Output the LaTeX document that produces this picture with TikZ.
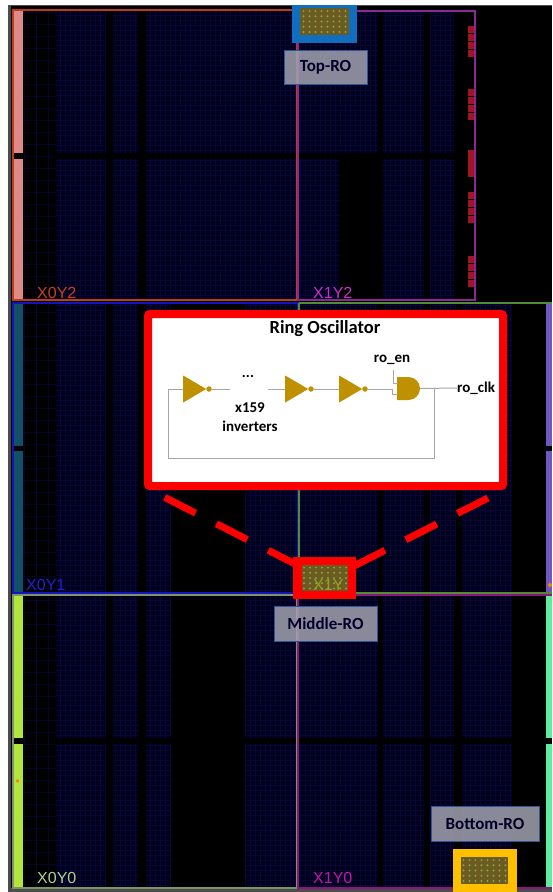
\documentclass[tikz,border=0pt]{standalone}
\usepackage{fontspec}
\setmainfont{Carlito}
\newfontfamily\regionfont{Liberation Sans}
\usetikzlibrary{shapes.geometric,shapes.misc}
\definecolor{fabric}{HTML}{00001C}
\definecolor{fabricline}{HTML}{070736}
\definecolor{sliceline}{HTML}{05052A}
\definecolor{gatecol}{HTML}{BF9000}
\definecolor{wirecol}{HTML}{A6A6A6}
\definecolor{rored}{HTML}{FF0000}
\definecolor{iored}{HTML}{A01525}
\definecolor{boxedge}{HTML}{2F5597}
\definecolor{boxfill}{HTML}{A2A2B0}
\definecolor{chipcol}{HTML}{6B5A22}
\definecolor{dotcol}{HTML}{84A83E}
\tikzset{
  regionlabel/.style={font=\regionfont\fontsize{16}{16}\selectfont, anchor=west, inner sep=0pt},
  rolabel/.style={draw=boxedge, line width=1pt, fill=boxfill, fill opacity=.85, text opacity=1, inner sep=0pt, font=\bfseries\fontsize{17}{18}\selectfont, text=black!85!blue},
  roblock/.style={minimum height=#1, inner sep=0pt},
  chip/.style={fill=chipcol, inner sep=0pt},
  invgate/.style={isosceles triangle, isosceles triangle apex angle=60, isosceles triangle stretches, fill=gatecol, inner sep=0pt, minimum width=27pt, minimum height=23pt, anchor=lower side},
  bubble/.style={circle, fill=gatecol, inner sep=0pt, minimum size=5.5pt},
  andgate/.style={rounded rectangle, rounded rectangle left arc=none, fill=gatecol, inner sep=0pt, minimum width=21pt, minimum height=23pt},
  wire/.style={draw=wirecol, line width=1pt},
  txt/.style={font=\bfseries\fontsize{15}{17}\selectfont, inner sep=0pt, align=center},
  pointer/.style={draw=rored, line width=7pt, dash pattern=on 34.6pt off 23.5pt}
}
\begin{document}
\begin{tikzpicture}[x=1pt,y=-1pt]
\useasboundingbox (0,0) rectangle (552,892);
\fill[white] (0,0) rectangle (552,892);
\fill[black!70] (8,5) rectangle (552,892);
\fill[black] (11,6) rectangle (552,888);
% faint lines in the slice columns
\draw[sliceline, line width=.3pt, step=12pt] (23,11) grid (56,888);
% fabric columns, x1/x2/y1/y2
\foreach \xa/\xb/\ya/\yb in {56/105/11/153, 113/138/11/153, 146/297/11/153, 299/378/11/153, 383/424/11/153, 430/454/11/153,
  56/105/159/300, 113/138/159/300, 146/297/159/300, 299/339/159/300, 383/424/159/300, 430/454/159/300,
  56/105/303/593, 113/138/303/593, 146/170/303/593, 245/378/303/593, 383/424/303/593, 430/455/303/593, 462/512/303/593,
  56/105/596/738, 113/138/596/738, 146/170/596/738, 245/378/596/738, 383/424/596/738, 430/454/596/738, 462/512/596/738,
  56/105/744/888, 113/138/744/888, 146/170/744/888, 245/378/744/888, 383/424/744/888, 430/454/744/888, 462/512/744/888} {
  \fill[fabric] (\xa,\ya) rectangle (\xb,\yb);
  \draw[fabricline, line width=.3pt, step=5pt] (\xa,\ya) grid (\xb,\yb);
}
% clock region bars
\foreach \xa/\xb/\ya/\yb/\barcol in {14/23/10/153/E08A88, 14/23/159/301/E08A88, 14/23/303/446/12506A, 14/23/451/593/12506A,
  14/23/596/738/B2E63C, 14/23/744/888/B2E63C, 546/552/303/446/7058C0, 546/552/451/593/7058C0,
  546/552/596/738/60EE9C, 546/552/744/888/60EE9C} {
  \definecolor{barfill}{HTML}{\barcol}
  \fill[barfill] (\xa,\ya) rectangle (\xb,\yb);
}
% io ticks
\foreach \ya in {26,34,42,50, 89,97,105,113, 192,200,208,216, 256,264,272,280}
  \fill[iored] (468,\ya) rectangle (475,\ya+7);
\fill[iored] (468,150) rectangle (475,177);
\fill[orange] (17.5,781) circle (1.8pt);
\fill[orange] (550,585) circle (2pt);
% clock region frames
\draw[color={rgb,255:red,190;green,60;blue,30}, line width=1.2pt] (13,10) rectangle (297,300);
\draw[color={rgb,255:red,140;green,40;blue,150}, line width=1.2pt] (298,11) rectangle (475,300);
\draw[color={rgb,255:red,20;green,20;blue,190}, line width=1.2pt] (13,303) rectangle (298,593);
\draw[color={rgb,255:red,80;green,140;blue,50}, line width=1.2pt] (299,303) -- (552,303) (299,303) -- (299,593) -- (552,593);
\draw[color={rgb,255:red,125;green,150;blue,105}, line width=1.2pt] (13,595) rectangle (297,888);
\draw[color={rgb,255:red,140;green,20;blue,125}, line width=1.2pt] (298,595) -- (552,595) (298,595) -- (298,888) -- (552,888);
\node[regionlabel, text={rgb,255:red,200;green,65;blue,30}] (x0y2) at (37,293) {X0Y2};
\node[regionlabel, text={rgb,255:red,200;green,50;blue,200}] (x1y2) at (313,293) {X1Y2};
\node[regionlabel, text={rgb,255:red,35;green,30;blue,215}] (x0y1) at (26,585) {X0Y1};
\node[regionlabel, text={rgb,255:red,175;green,210;blue,140}] (x0y0) at (37,878) {X0Y0};
\node[regionlabel, text={rgb,255:red,200;green,20;blue,170}] (x1y0) at (313,878) {X1Y0};
% ring oscillator locations
\node[fill={rgb,255:red,15;green,110;blue,190}, roblock=38pt, minimum width=65pt] (rotop) at (324.5,24) {};
\node[fill=rored, roblock=42pt, minimum width=63pt] (romid) at (324.5,578) {};
\node[fill={rgb,255:red,255;green,192;blue,0}, roblock=43pt, minimum width=64pt] (robot) at (485,870.5) {};
\node[chip, minimum width=49pt, minimum height=27pt] (rotopchip) at (324.5,21.5) {};
\node[chip, minimum width=46pt, minimum height=26pt] (romidchip) at (325,578) {};
\node[chip, minimum width=47pt, minimum height=27pt] (robotchip) at (484.5,870.5) {};
\foreach \chipname in {rotopchip,romidchip,robotchip}
  \foreach \dx in {-21,-15,-9,-3,3,9,15,21}
    \foreach \dy in {-10.4,-5.2,0,5.2,10.4}
      \fill[dotcol] ([shift={(\dx,\dy)}]\chipname.center) circle (1.1pt);
\node[regionlabel, text={rgb,255:red,150;green,160;blue,40}] (x1y1) at (313,585) {X1Y};
\node[rolabel, minimum width=83pt, minimum height=34pt] (toplabel) at (325.5,67) {Top-RO};
\node[rolabel, minimum width=103pt, minimum height=35pt] (midlabel) at (325.5,623.5) {Middle-RO};
\node[rolabel, minimum width=108pt, minimum height=35pt] (botlabel) at (485,823.5) {Bottom-RO};
% callout
\coordinate (pickl) at (299,566);
\coordinate (pickr) at (354,566);
\coordinate (calll) at (164,497);
\coordinate (callr) at (488,498);
\draw[pointer] (pickl) -- (calll);
\draw[pointer] (pickr) -- (callr);
\node[draw=rored, fill=white, line width=8pt, rounded corners=2pt, minimum width=355pt, minimum height=172pt, inner sep=0pt] (callout) at (325.5,400) {};
\node[font=\bfseries\fontsize{18.5}{20}\selectfont, inner sep=0pt] (rotitle) at (325,329) {Ring Oscillator};
% the ring
\node[invgate] (inva) at (183,389) {};
\node[invgate] (invb) at (285,389) {};
\node[invgate] (invc) at (339,389) {};
\node[bubble] (bubblea) at (209,389) {};
\node[bubble] (bubbleb) at (311,389) {};
\node[bubble] (bubblec) at (365,389) {};
\node[andgate] (andg) at (408.5,388.5) {};
\node[txt] (dots) at (248,376) {...};
\node[txt] (count) at (250,417.5) {x159\\[2pt]inverters};
\node[txt] (roen) at (392,360) {ro\_en};
\node[txt, anchor=west] (roclk) at (457,388) {ro\_clk};
\coordinate (dotsl) at (230,389);
\coordinate (dotsr) at (268,389);
\coordinate (enin) at (398,383);
\coordinate (ringin) at (398,394);
\coordinate (tap) at (434,389);
\draw[wire] (bubblea) -- (dotsl);
\draw[wire] (dotsr) -- (invb.lower side);
\draw[wire] (bubbleb) -- (invc.lower side);
\draw[wire] (bubblec) -- (392,389) -- (392,394) -- (ringin);
\draw[wire] (393,370) -- (393,383) -- (enin);
\draw[wire] (andg.east) -- (roclk.west);
\draw[wire] (tap) -- (434,458) -- (168,458) -- (168,389) -- (inva.lower side);
\end{tikzpicture}
\end{document}
